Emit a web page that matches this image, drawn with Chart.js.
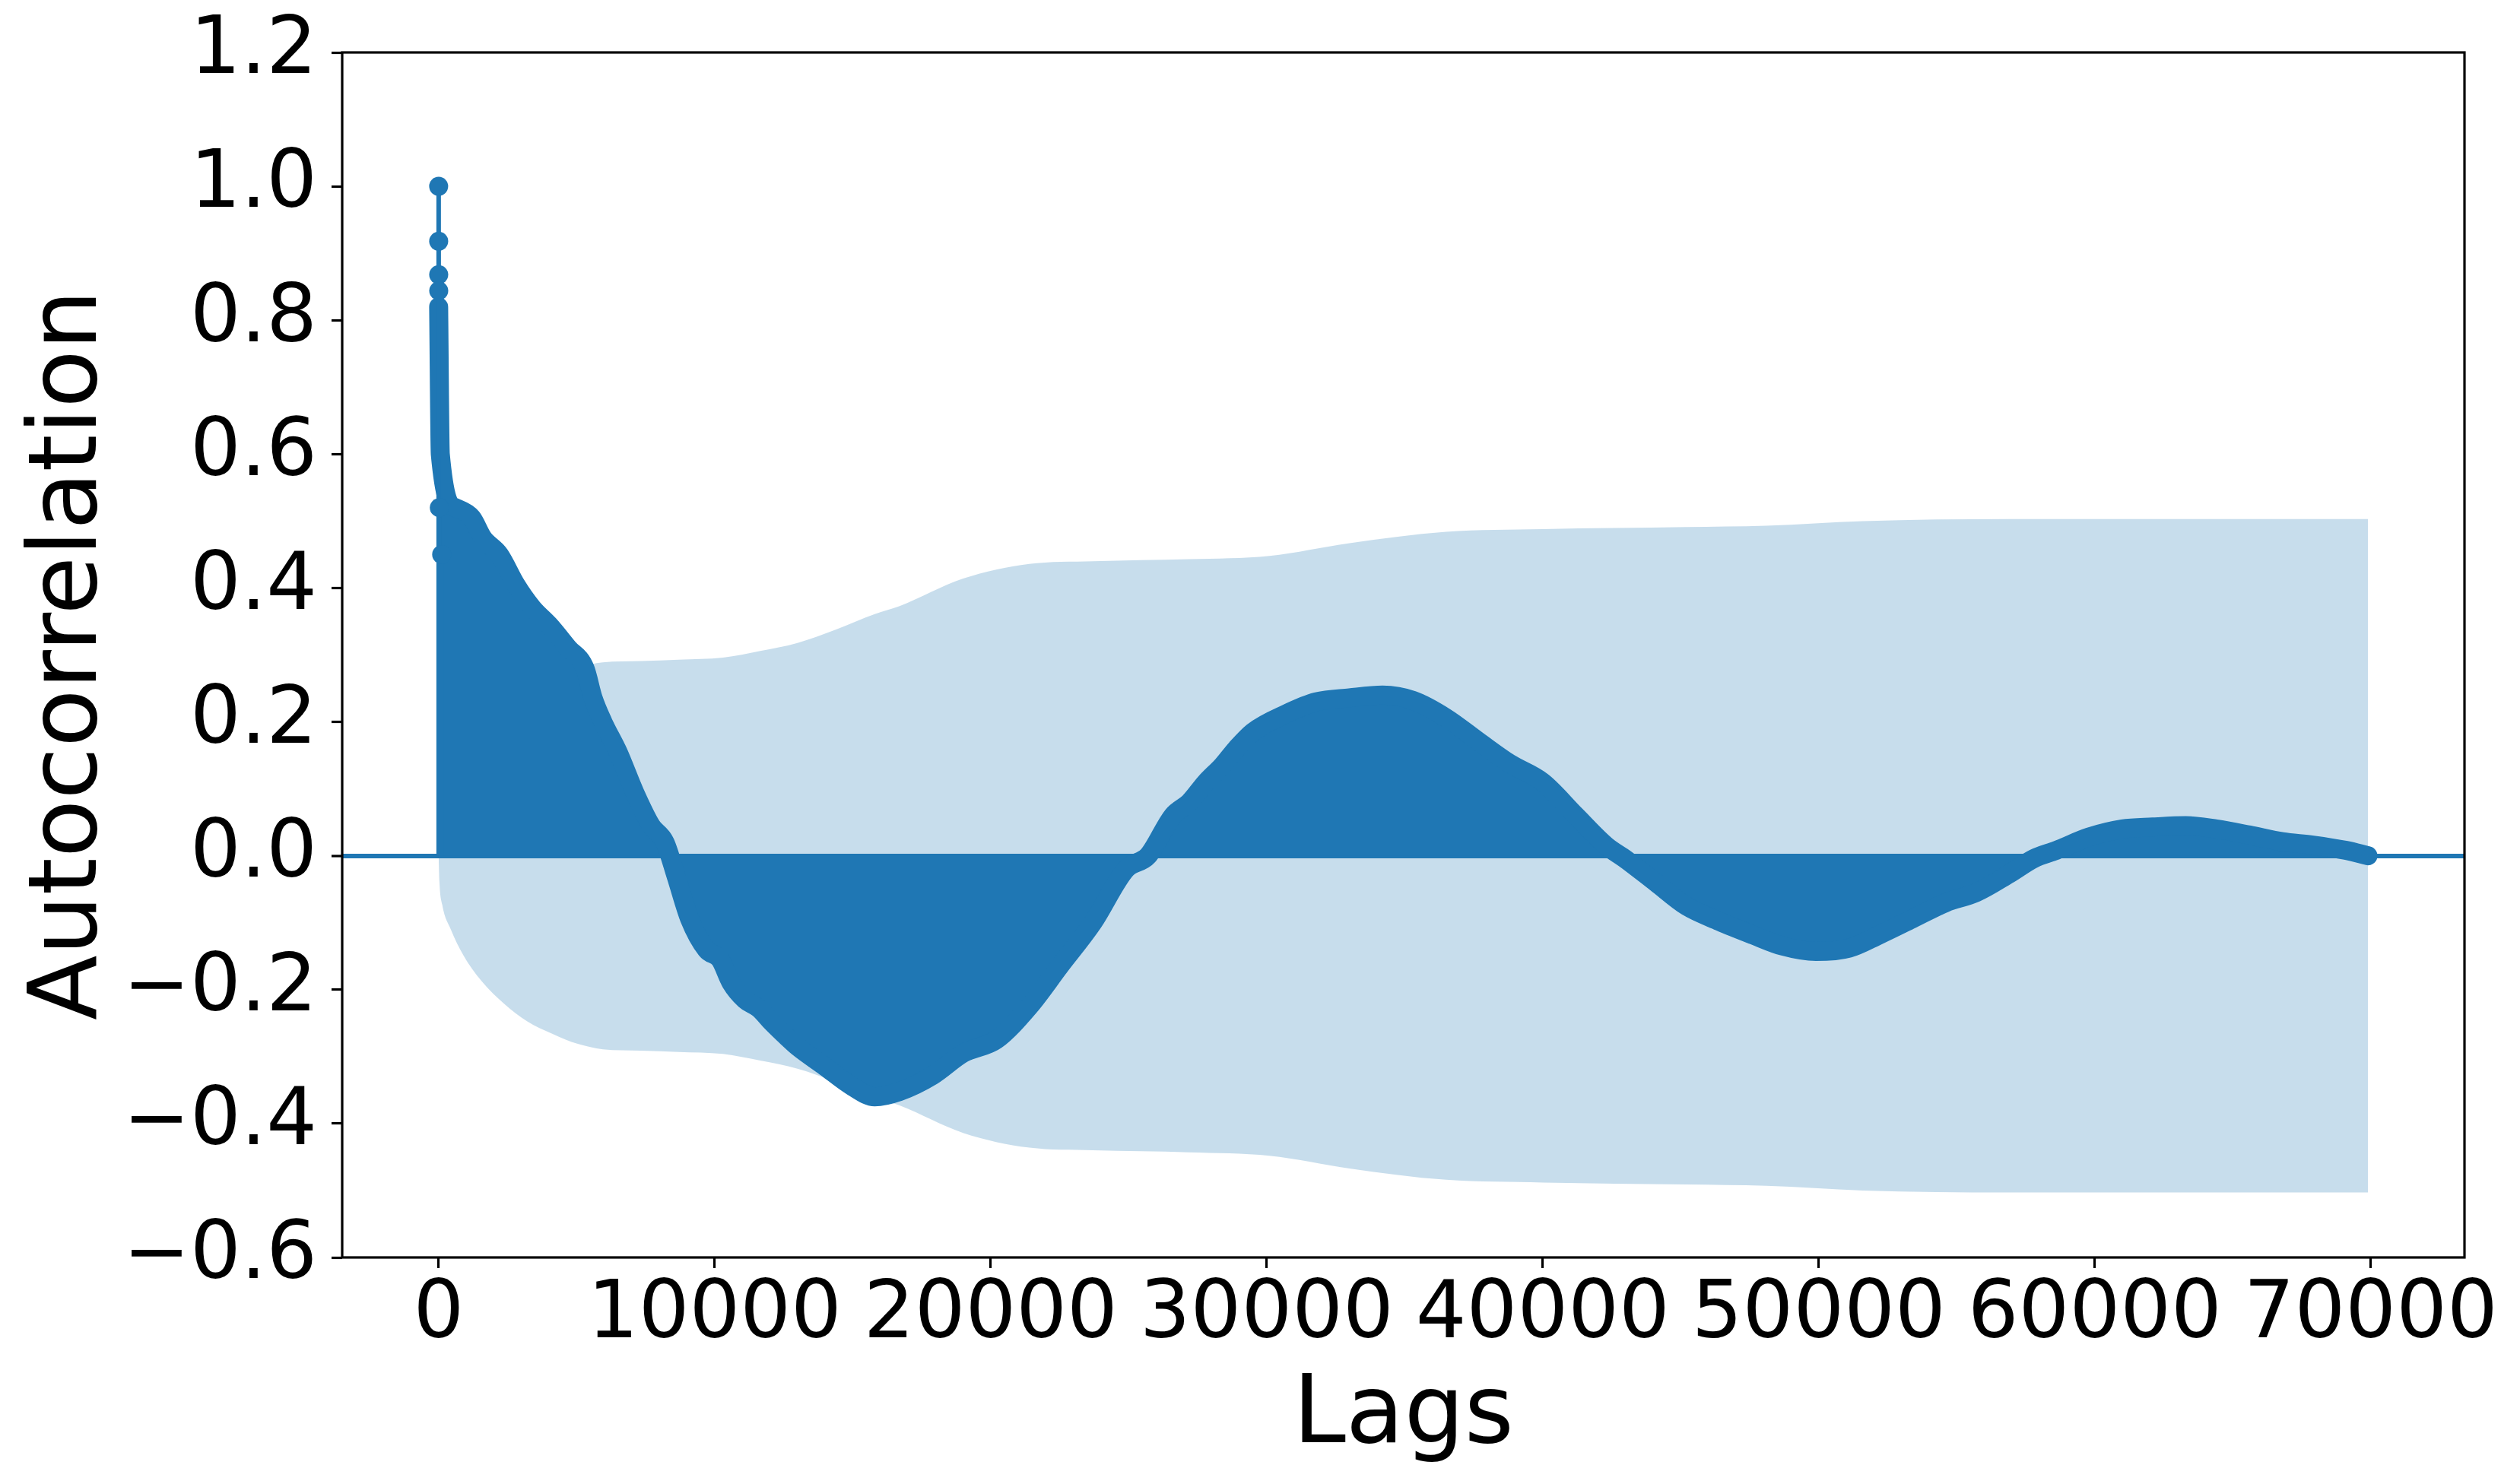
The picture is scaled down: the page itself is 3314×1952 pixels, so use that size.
<!DOCTYPE html>
<html>
<head>
<meta charset="utf-8">
<script src="https://cdn.jsdelivr.net/npm/chart.js@4.4.1/dist/chart.umd.min.js"></script>
<style>
  html, body { margin:0; padding:0; background:#fff; overflow:hidden; }
  #wrap { width:3314px; height:1952px; position:relative; }
</style>
</head>
<body>
<div id="wrap"><canvas id="acf"></canvas></div>
<script>
/* ACF plot (lags vs autocorrelation) */

// first lags drawn as separate stems + markers
const HEAD_LAGS = [0, 1, 2, 3, 24, 110];
const HEAD_ACF  = [1.0, 0.918, 0.868, 0.844, 0.52, 0.45];

// rest of the acf
const LAGS = [
  0, 60, 600, 1200, 1600, 2200, 2800, 3400, 4000, 4700,
  5300, 5600, 5950, 6500, 7100, 7700, 8200, 8600, 9100, 9700,
  10200, 10600, 11100, 11600, 12100, 12600, 13000, 14000, 15000, 15800,
  16700, 17900, 19000, 20200, 21400, 22500, 23700, 24900, 25700, 26600,
  27200, 27800, 28400, 28900, 29500, 30700, 31800, 33000, 34200, 35300,
  36500, 37700, 38800, 40000, 41200, 42300, 43000, 44100, 45200, 46400,
  47600, 48700, 49900, 51100, 52200, 53400, 54600, 55700, 56900, 57800,
  58600, 59800, 61000, 62100, 63300, 64400, 65600, 66800, 67900, 69100,
  69900
];
const ACF = [
  0.82, 0.60, 0.52, 0.505, 0.475, 0.45, 0.405, 0.37, 0.345, 0.31,
  0.28, 0.235, 0.20, 0.155, 0.095, 0.045, 0.02, -0.03, -0.095, -0.14,
  -0.155, -0.19, -0.215, -0.228, -0.25, -0.27, -0.285, -0.315, -0.345, -0.36,
  -0.352, -0.328, -0.295, -0.275, -0.225, -0.165, -0.10, -0.02, 0.0, 0.06,
  0.08, 0.11, 0.135, 0.16, 0.185, 0.212, 0.23, 0.236, 0.24, 0.232,
  0.206, 0.17, 0.138, 0.11, 0.06, 0.015, -0.005, -0.04, -0.075, -0.098,
  -0.118, -0.135, -0.143, -0.138, -0.118, -0.094, -0.07, -0.055, -0.027, -0.004,
  0.008, 0.028, 0.04, 0.043, 0.045, 0.04, 0.031, 0.021, 0.016, 0.008,
  0.0
];

// confidence band half width
const BAND_LAGS = [1, 28, 130, 440, 900, 1550, 2370, 3200, 4130, 5040,
  5950, 7330, 8700, 10300, 11650, 13000, 14400, 15800, 16700, 19000,
  21400, 23700, 27200, 30100, 33000, 36500, 40000, 45200, 48100, 51600,
  56900, 62700, 69900];
const BAND_HALF = [0.005, 0.039, 0.073, 0.11, 0.149, 0.187, 0.221, 0.247, 0.266, 0.281,
  0.289, 0.291, 0.293, 0.296, 0.306, 0.318, 0.338, 0.361, 0.373, 0.414,
  0.436, 0.44, 0.443, 0.448, 0.467, 0.484, 0.488, 0.491, 0.493, 0.5,
  0.503, 0.503, 0.503];

const X_TICKS  = [0, 10000, 20000, 30000, 40000, 50000, 60000, 70000];
const X_LABELS = ['0', '10000', '20000', '30000', '40000', '50000', '60000', '70000'];
const Y_TICKS  = [-0.6, -0.4, -0.2, 0, 0.2, 0.4, 0.6, 0.8, 1.0, 1.2];
const Y_LABELS = ['\u22120.6', '\u22120.4', '\u22120.2', '0.0', '0.2', '0.4', '0.6', '0.8', '1.0', '1.2'];

const BLUE = '#1f77b4', BAND = 'rgba(31,119,180,0.25)', NONE = 'rgba(0,0,0,0)';
const FONT = 'DejaVu Sans';

const stems = [];
HEAD_LAGS.forEach((l, i) => { stems.push({x:l, y:0}, {x:l, y:HEAD_ACF[i]}, {x:l, y:null}); });

const frame = {id:'frame', afterDatasetsDraw(c){
  const {ctx, chartArea:a} = c;
  ctx.save(); ctx.strokeStyle = '#000'; ctx.lineWidth = 3.2;
  ctx.strokeRect(a.left, a.top, a.right - a.left, a.bottom - a.top);
  ctx.restore();
}};

new Chart(document.getElementById('acf'), {
  type:'line',
  data:{datasets:[
    {data: BAND_LAGS.map((x,i)=>({x, y: BAND_HALF[i]})), fill:'+1', backgroundColor:BAND, borderColor:NONE, pointRadius:0, cubicInterpolationMode:'monotone', order:4},
    {data: BAND_LAGS.map((x,i)=>({x, y: -BAND_HALF[i]})), fill:false, borderColor:NONE, pointRadius:0, cubicInterpolationMode:'monotone', order:4},
    {data: LAGS.map((x,i)=>({x, y: ACF[i]})), fill:'origin', backgroundColor:BLUE, borderColor:BLUE, borderWidth:25,
      borderCapStyle:'round', borderJoinStyle:'round', pointRadius:0, cubicInterpolationMode:'monotone', order:2},
    {data: stems, fill:false, borderColor:BLUE, borderWidth:6, pointRadius:0, spanGaps:false, order:1},
    {data: HEAD_LAGS.map((x,i)=>({x, y: HEAD_ACF[i]})), showLine:false, pointRadius:12.5, pointBackgroundColor:BLUE, pointBorderWidth:0, order:0}
  ]},
  options:{
    responsive:true, maintainAspectRatio:false, animation:false, events:[],
    layout:{padding:{top:69, right:73, bottom:0, left:0}},
    plugins:{legend:{display:false}, tooltip:{enabled:false}},
    scales:{
      x:{type:'linear', min:-3495, max:73395,
        afterBuildTicks: s => { s.ticks = X_TICKS.map(v => ({value:v})); },
        afterFit: s => { s.height = 298; },
        ticks:{callback:(v,i)=>X_LABELS[i], color:'#000', font:{family:FONT, size:105, lineHeight:1}, padding:11, maxRotation:0, autoSkip:false},
        grid:{display:true, drawOnChartArea:false, color:NONE, tickColor:'#000', tickWidth:3.2, tickLength:14},
        border:{display:false},
        title:{display:true, text:'Lags', color:'#000', font:{family:FONT, size:125, lineHeight:1.2}, padding:{top:0, bottom:12}}
      },
      y:{type:'linear', min:-0.6, max:1.2,
        afterBuildTicks: s => { s.ticks = Y_TICKS.map(v => ({value:v})); },
        afterFit: s => { s.width = 450; },
        ticks:{callback:(v,i)=>Y_LABELS[i], color:'#000', font:{family:FONT, size:105, lineHeight:0.8}, padding:19},
        grid:{display:true, drawOnChartArea:true,
          color: c => (c.tick && c.tick.value === 0 ? BLUE : NONE),
          lineWidth: c => (c.tick && c.tick.value === 0 ? 6 : 1),
          tickColor:'#000', tickWidth:3.2, tickLength:14},
        border:{display:false},
        title:{display:true, text:'Autocorrelation', color:'#000', font:{family:FONT, size:125, lineHeight:1.2}, padding:{top:19, bottom:0}}
      }
    }
  },
  plugins:[frame]
});
</script>
</body>
</html>
